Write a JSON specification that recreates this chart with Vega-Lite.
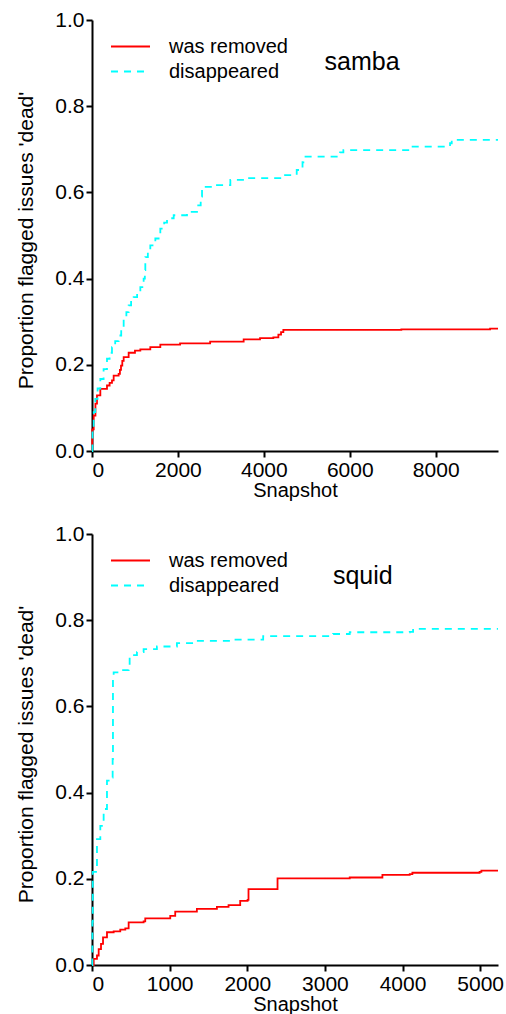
{
  "$schema": "https://vega.github.io/schema/vega-lite/v6.json",
  "background": "white",
  "padding": {"left": 15, "top": 9, "right": 5, "bottom": 0},
  "bounds": "flush",
  "spacing": 83,
  "config": {
    "font": "Liberation Sans",
    "view": {"stroke": null},
    "axis": {
      "grid": false,
      "domainColor": "black",
      "domainWidth": 2,
      "tickColor": "black",
      "tickWidth": 2,
      "tickSize": 6,
      "labelColor": "black",
      "labelFontSize": 21,
      "labelFont": "Liberation Sans",
      "titleFont": "Liberation Sans",
      "titleFontSize": 20,
      "titleFontWeight": "normal",
      "titleColor": "black"
    },
    "axisY": {"labelPadding": 2, "titleFontSize": 21, "titlePadding": 18, "titleY": 220},
    "axisX": {"labelPadding": 2, "titlePadding": 0, "format": "d"},
    "legend": {
      "orient": "none",
      "legendX": 18,
      "legendY": 14,
      "padding": 0,
      "symbolType": "stroke",
      "symbolSize": 1521,
      "symbolStrokeWidth": 2,
      "labelFontSize": 20,
      "labelFont": "Liberation Sans",
      "labelColor": "black",
      "labelOffset": 18,
      "rowPadding": 0,
      "clipHeight": 25,
      "title": null
    }
  },
  "datasets": {
    "samba": [
      {"series": "was removed", "x": 0, "y": 0},
      {"series": "was removed", "x": 5, "y": 0.05},
      {"series": "was removed", "x": 40, "y": 0.082},
      {"series": "was removed", "x": 80, "y": 0.11},
      {"series": "was removed", "x": 116, "y": 0.129},
      {"series": "was removed", "x": 194, "y": 0.144},
      {"series": "was removed", "x": 349, "y": 0.152},
      {"series": "was removed", "x": 410, "y": 0.158},
      {"series": "was removed", "x": 465, "y": 0.164},
      {"series": "was removed", "x": 504, "y": 0.175},
      {"series": "was removed", "x": 620, "y": 0.179},
      {"series": "was removed", "x": 650, "y": 0.188},
      {"series": "was removed", "x": 675, "y": 0.198},
      {"series": "was removed", "x": 705, "y": 0.209},
      {"series": "was removed", "x": 737, "y": 0.218},
      {"series": "was removed", "x": 853, "y": 0.228},
      {"series": "was removed", "x": 1000, "y": 0.233},
      {"series": "was removed", "x": 1125, "y": 0.236},
      {"series": "was removed", "x": 1357, "y": 0.241},
      {"series": "was removed", "x": 1590, "y": 0.247},
      {"series": "was removed", "x": 2050, "y": 0.2495},
      {"series": "was removed", "x": 2750, "y": 0.254},
      {"series": "was removed", "x": 3530, "y": 0.259},
      {"series": "was removed", "x": 3911, "y": 0.262},
      {"series": "was removed", "x": 4221, "y": 0.2635},
      {"series": "was removed", "x": 4338, "y": 0.27},
      {"series": "was removed", "x": 4400, "y": 0.276},
      {"series": "was removed", "x": 4454, "y": 0.281},
      {"series": "was removed", "x": 7200, "y": 0.282},
      {"series": "was removed", "x": 9266, "y": 0.284},
      {"series": "was removed", "x": 9450, "y": 0.284},
      {"series": "disappeared", "x": 0, "y": 0},
      {"series": "disappeared", "x": 10, "y": 0.05},
      {"series": "disappeared", "x": 40, "y": 0.09},
      {"series": "disappeared", "x": 77, "y": 0.121},
      {"series": "disappeared", "x": 130, "y": 0.145},
      {"series": "disappeared", "x": 194, "y": 0.167},
      {"series": "disappeared", "x": 270, "y": 0.19},
      {"series": "disappeared", "x": 349, "y": 0.214},
      {"series": "disappeared", "x": 410, "y": 0.228},
      {"series": "disappeared", "x": 465, "y": 0.241},
      {"series": "disappeared", "x": 540, "y": 0.255},
      {"series": "disappeared", "x": 620, "y": 0.268},
      {"series": "disappeared", "x": 680, "y": 0.287},
      {"series": "disappeared", "x": 737, "y": 0.307},
      {"series": "disappeared", "x": 800, "y": 0.322},
      {"series": "disappeared", "x": 853, "y": 0.338},
      {"series": "disappeared", "x": 910, "y": 0.348},
      {"series": "disappeared", "x": 970, "y": 0.357},
      {"series": "disappeared", "x": 1050, "y": 0.368},
      {"series": "disappeared", "x": 1125, "y": 0.38},
      {"series": "disappeared", "x": 1202, "y": 0.4},
      {"series": "disappeared", "x": 1230, "y": 0.42},
      {"series": "disappeared", "x": 1241, "y": 0.45},
      {"series": "disappeared", "x": 1300, "y": 0.465},
      {"series": "disappeared", "x": 1357, "y": 0.477},
      {"series": "disappeared", "x": 1474, "y": 0.493},
      {"series": "disappeared", "x": 1590, "y": 0.516},
      {"series": "disappeared", "x": 1680, "y": 0.53},
      {"series": "disappeared", "x": 1746, "y": 0.54},
      {"series": "disappeared", "x": 1901, "y": 0.547},
      {"series": "disappeared", "x": 2211, "y": 0.555},
      {"series": "disappeared", "x": 2444, "y": 0.57},
      {"series": "disappeared", "x": 2530, "y": 0.59},
      {"series": "disappeared", "x": 2561, "y": 0.613},
      {"series": "disappeared", "x": 2833, "y": 0.617},
      {"series": "disappeared", "x": 3220, "y": 0.629},
      {"series": "disappeared", "x": 3608, "y": 0.633},
      {"series": "disappeared", "x": 4454, "y": 0.64},
      {"series": "disappeared", "x": 4765, "y": 0.652},
      {"series": "disappeared", "x": 4900, "y": 0.67},
      {"series": "disappeared", "x": 4920, "y": 0.683},
      {"series": "disappeared", "x": 5774, "y": 0.693},
      {"series": "disappeared", "x": 5851, "y": 0.698},
      {"series": "disappeared", "x": 7403, "y": 0.706},
      {"series": "disappeared", "x": 8334, "y": 0.714},
      {"series": "disappeared", "x": 8373, "y": 0.722},
      {"series": "disappeared", "x": 9450, "y": 0.722}
    ],
    "squid": [
      {"series": "was removed", "x": 0, "y": 0},
      {"series": "was removed", "x": 22, "y": 0.014},
      {"series": "was removed", "x": 64, "y": 0.022},
      {"series": "was removed", "x": 86, "y": 0.037},
      {"series": "was removed", "x": 116, "y": 0.049},
      {"series": "was removed", "x": 142, "y": 0.064},
      {"series": "was removed", "x": 193, "y": 0.076},
      {"series": "was removed", "x": 279, "y": 0.078},
      {"series": "was removed", "x": 364, "y": 0.082},
      {"series": "was removed", "x": 429, "y": 0.085},
      {"series": "was removed", "x": 472, "y": 0.099},
      {"series": "was removed", "x": 665, "y": 0.101},
      {"series": "was removed", "x": 686, "y": 0.108},
      {"series": "was removed", "x": 1008, "y": 0.114},
      {"series": "was removed", "x": 1072, "y": 0.124},
      {"series": "was removed", "x": 1351, "y": 0.13},
      {"series": "was removed", "x": 1609, "y": 0.135},
      {"series": "was removed", "x": 1759, "y": 0.139},
      {"series": "was removed", "x": 1909, "y": 0.149},
      {"series": "was removed", "x": 2004, "y": 0.151},
      {"series": "was removed", "x": 2016, "y": 0.176},
      {"series": "was removed", "x": 2390, "y": 0.201},
      {"series": "was removed", "x": 3320, "y": 0.203},
      {"series": "was removed", "x": 3741, "y": 0.209},
      {"series": "was removed", "x": 4093, "y": 0.211},
      {"series": "was removed", "x": 4127, "y": 0.214},
      {"series": "was removed", "x": 4993, "y": 0.216},
      {"series": "was removed", "x": 5016, "y": 0.219},
      {"series": "was removed", "x": 5230, "y": 0.219},
      {"series": "disappeared", "x": 0, "y": 0},
      {"series": "disappeared", "x": 5, "y": 0.1},
      {"series": "disappeared", "x": 10, "y": 0.216},
      {"series": "disappeared", "x": 64, "y": 0.292},
      {"series": "disappeared", "x": 107, "y": 0.323},
      {"series": "disappeared", "x": 150, "y": 0.362},
      {"series": "disappeared", "x": 193, "y": 0.428},
      {"series": "disappeared", "x": 257, "y": 0.435},
      {"series": "disappeared", "x": 266, "y": 0.478},
      {"series": "disappeared", "x": 270, "y": 0.671},
      {"series": "disappeared", "x": 279, "y": 0.679},
      {"series": "disappeared", "x": 343, "y": 0.684},
      {"series": "disappeared", "x": 472, "y": 0.69},
      {"series": "disappeared", "x": 485, "y": 0.719},
      {"series": "disappeared", "x": 579, "y": 0.726},
      {"series": "disappeared", "x": 665, "y": 0.733},
      {"series": "disappeared", "x": 836, "y": 0.739},
      {"series": "disappeared", "x": 1094, "y": 0.747},
      {"series": "disappeared", "x": 1351, "y": 0.752},
      {"series": "disappeared", "x": 1780, "y": 0.755},
      {"series": "disappeared", "x": 2205, "y": 0.763},
      {"series": "disappeared", "x": 3106, "y": 0.768},
      {"series": "disappeared", "x": 3320, "y": 0.772},
      {"series": "disappeared", "x": 4093, "y": 0.773},
      {"series": "disappeared", "x": 4136, "y": 0.78},
      {"series": "disappeared", "x": 5230, "y": 0.78}
    ]
  },
  "vconcat": [
    {
      "width": 406,
      "height": 431,
      "layer": [
        {
          "data": {"name": "samba"},
          "mark": {"type": "line", "interpolate": "step-after", "strokeWidth": 1.8},
          "encoding": {
            "x": {"field": "x", "type": "quantitative", "scale": {"domain": [0, 9450], "nice": false, "zero": false}, "axis": {"values": [0, 2000, 4000, 6000, 8000], "title": "Snapshot"}},
            "y": {"field": "y", "type": "quantitative", "scale": {"domain": [0, 1], "nice": false}, "axis": {"values": [0, 0.2, 0.4, 0.6, 0.8, 1.0], "format": ".1f", "title": "Proportion flagged issues 'dead'"}},
            "color": {"field": "series", "type": "nominal", "scale": {"domain": ["was removed", "disappeared"], "range": ["#ff0000", "#00ffff"]}, "legend": {"title": null}},
            "strokeDash": {"field": "series", "type": "nominal", "scale": {"domain": ["was removed", "disappeared"], "range": [[1, 0], [7, 6]]}, "legend": {"title": null}}
          }
        },
        {
          "data": {"values": [{"label": "samba"}]},
          "mark": {"type": "text", "fontSize": 25, "font": "Liberation Sans", "align": "center", "baseline": "alphabetic", "fill": "black"},
          "encoding": {"x": {"datum": 6285}, "y": {"datum": 0.884}, "text": {"field": "label"}}
        }
      ]
    },
    {
      "width": 406,
      "height": 431,
      "layer": [
        {
          "data": {"name": "squid"},
          "mark": {"type": "line", "interpolate": "step-after", "strokeWidth": 1.8},
          "encoding": {
            "x": {"field": "x", "type": "quantitative", "scale": {"domain": [0, 5230], "nice": false, "zero": false}, "axis": {"values": [0, 1000, 2000, 3000, 4000, 5000], "title": "Snapshot"}},
            "y": {"field": "y", "type": "quantitative", "scale": {"domain": [0, 1], "nice": false}, "axis": {"values": [0, 0.2, 0.4, 0.6, 0.8, 1.0], "format": ".1f", "title": "Proportion flagged issues 'dead'"}},
            "color": {"field": "series", "type": "nominal", "scale": {"domain": ["was removed", "disappeared"], "range": ["#ff0000", "#00ffff"]}, "legend": {"title": null}},
            "strokeDash": {"field": "series", "type": "nominal", "scale": {"domain": ["was removed", "disappeared"], "range": [[1, 0], [7, 6]]}, "legend": {"title": null}}
          }
        },
        {
          "data": {"values": [{"label": "squid"}]},
          "mark": {"type": "text", "fontSize": 25, "font": "Liberation Sans", "align": "center", "baseline": "alphabetic", "fill": "black"},
          "encoding": {"x": {"datum": 3488}, "y": {"datum": 0.884}, "text": {"field": "label"}}
        }
      ]
    }
  ],
  "resolve": {
    "scale": {"color": "independent", "strokeDash": "independent"},
    "legend": {"color": "independent", "strokeDash": "independent"}
  }
}
